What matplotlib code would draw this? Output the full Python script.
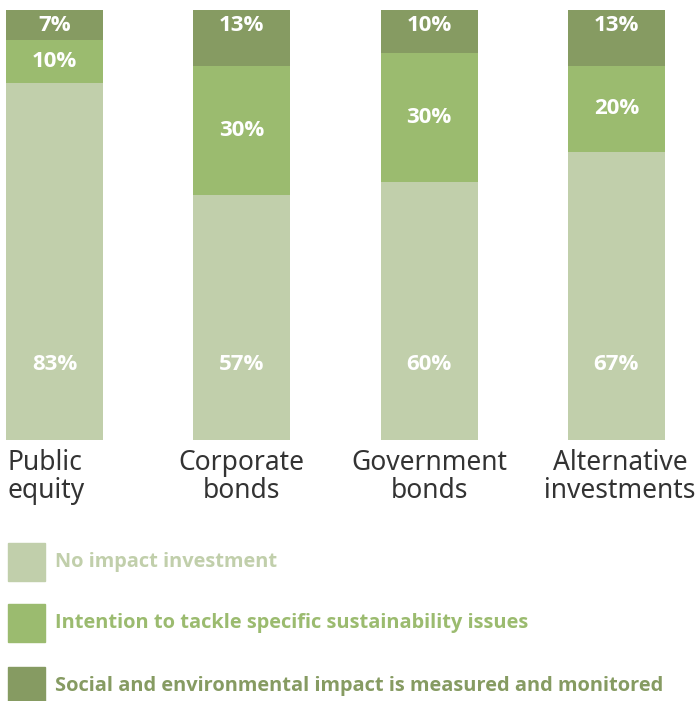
import matplotlib.pyplot as plt
from matplotlib.patches import Rectangle
import numpy as np

plt.rcParams['font.family'] = ['Noto Sans', 'DejaVu Sans']
BOLD = ['Open Sans', 'DejaVu Sans']

# data
categories = ['Public\nequity', 'Corporate\nbonds', 'Government\nbonds', 'Alternative\ninvestments']
no_impact = [83, 57, 60, 67]
intention = [10, 30, 30, 20]
measured = [7, 13, 10, 13]
series_names = ['No impact investment',
                'Intention to tackle specific sustainability issues',
                'Social and environmental impact is measured and monitored']
colors = ['#c1cfab', '#9bbb6f', '#869b62']

W, H = 697, 701
fig = plt.figure(figsize=(W / 100, H / 100), dpi=100)
ax = fig.add_axes([0, 1 - 440 / H, 1, 430 / H])

x = np.arange(len(categories))
width = 0.518
no_impact = np.array(no_impact)
intention = np.array(intention)
measured = np.array(measured)

ax.bar(x, no_impact, width, color=colors[0])
ax.bar(x, intention, width, bottom=no_impact, color=colors[1])
ax.bar(x, measured, width, bottom=no_impact + intention, color=colors[2])

lab = dict(color='white', fontsize=16, fontweight='bold', ha='center', va='center',
           family=BOLD)
for i in range(len(x)):
    ax.text(x[i], 17.6, f'{no_impact[i]}%', **lab)
    ax.text(x[i], no_impact[i] + intention[i] / 2, f'{intention[i]}%', **lab)
    ax.text(x[i], 96.5, f'{measured[i]}%', **lab)

ax.set_xlim(-54.5 / 187.3, (W - 54.5) / 187.3)
ax.set_ylim(0, 100)
ax.axis('off')

# category labels
for i, c in enumerate(categories):
    if i == 0:
        ax.text(-0.25, -2.2, c, ha='left', va='top', fontsize=19, color='#333333',
                linespacing=1.0)
    else:
        ax.text(x[i] + (0.02 if i == 3 else 0), -2.2, c, ha='center', va='top',
                fontsize=19, color='#333333', linespacing=1.0)

# legend
legend_y = [562, 623, 686]
for name, col, yc in zip(series_names, colors, legend_y):
    fig.patches.append(Rectangle((8 / W, 1 - (yc + 19) / H), 37 / W, 38 / H,
                                 transform=fig.transFigure, color=col))
    fig.text(55 / W, 1 - yc / H, name, ha='left', va='center', fontsize=14.4,
             fontweight='bold', color=col, family=BOLD)

fig.savefig('out.png', dpi=100)
